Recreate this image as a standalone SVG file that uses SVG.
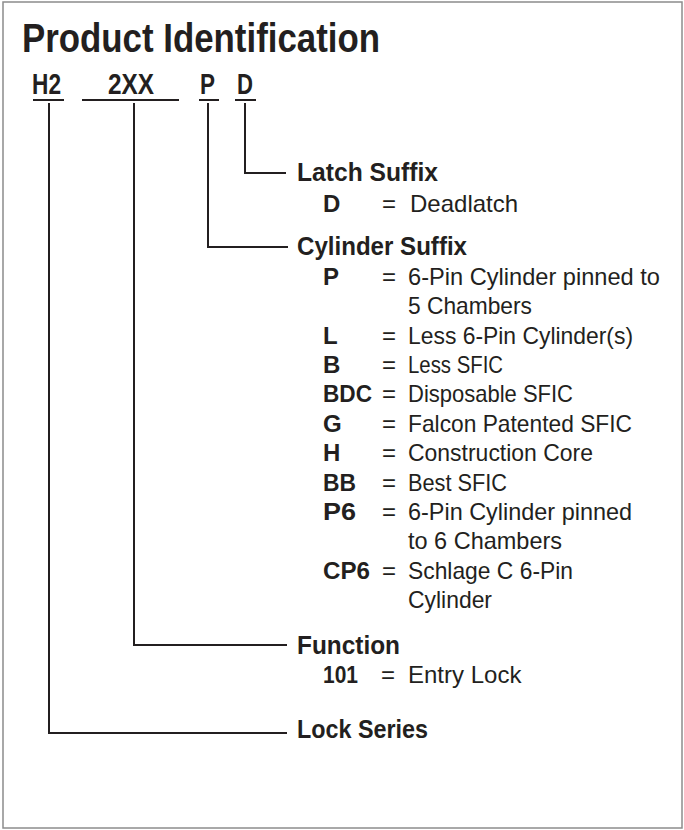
<svg xmlns="http://www.w3.org/2000/svg" width="684" height="830" viewBox="0 0 684 830">
<style>
text{font-family:"Liberation Sans",Arial,sans-serif;fill:#231f20}
.t{font-size:40px;font-weight:bold}
.c{font-size:29px;font-weight:bold}
.h{font-size:25px;font-weight:bold}
.k{font-size:24px;font-weight:bold}
.e{font-size:24px}
.d{font-size:24px}
.ln{fill:none;stroke:#231f20;stroke-width:2}
</style>
<rect x="3" y="2" width="679" height="826" fill="#fff" stroke="#8c8c8c" stroke-width="1.5"/>
<g id="title"><text class="t" x="22" y="52" textLength="358" lengthAdjust="spacingAndGlyphs">Product Identification</text></g>
<g id="codes">
<text class="c" x="32" y="94" textLength="29" lengthAdjust="spacingAndGlyphs">H2</text>
<text class="c" x="108" y="94" textLength="46" lengthAdjust="spacingAndGlyphs">2XX</text>
<text class="c" x="200" y="94" textLength="15" lengthAdjust="spacingAndGlyphs">P</text>
<text class="c" x="237" y="94" textLength="16" lengthAdjust="spacingAndGlyphs">D</text>
</g>
<g id="connectors" class="ln">
<line x1="33" y1="100" x2="64" y2="100"/>
<line x1="82" y1="100" x2="179" y2="100"/>
<line x1="199" y1="100" x2="219" y2="100"/>
<line x1="235" y1="100" x2="256" y2="100"/>
<polyline points="245,103 245,173 286,173"/>
<polyline points="208,103 208,247 288,247"/>
<polyline points="134,103 134,645 287,645"/>
<polyline points="49,103 49,733 287,733"/>
</g>
<g id="latch-suffix">
<text class="h" x="297" y="181" textLength="141" lengthAdjust="spacingAndGlyphs">Latch Suffix</text>
<text class="k" x="323" y="212">D</text><text class="e" x="382" y="212">=</text><text class="d" x="410" y="212">Deadlatch</text>
</g>
<g id="cylinder-suffix">
<text class="h" x="297" y="255" textLength="170" lengthAdjust="spacingAndGlyphs">Cylinder Suffix</text>
<text class="k" x="323" y="285">P</text><text class="e" x="382" y="285">=</text><text class="d" x="408" y="285" textLength="252" lengthAdjust="spacingAndGlyphs">6-Pin Cylinder pinned to</text>
<text class="d" x="408" y="314" textLength="124" lengthAdjust="spacingAndGlyphs">5 Chambers</text>
<text class="k" x="323" y="344">L</text><text class="e" x="382" y="344">=</text><text class="d" x="408" y="344" textLength="225" lengthAdjust="spacingAndGlyphs">Less 6-Pin Cylinder(s)</text>
<text class="k" x="323" y="373">B</text><text class="e" x="382" y="373">=</text><text class="d" x="408" y="373" textLength="95" lengthAdjust="spacingAndGlyphs">Less SFIC</text>
<text class="k" x="323" y="402" textLength="49" lengthAdjust="spacingAndGlyphs">BDC</text><text class="e" x="382" y="402">=</text><text class="d" x="408" y="402" textLength="165" lengthAdjust="spacingAndGlyphs">Disposable SFIC</text>
<text class="k" x="323" y="432">G</text><text class="e" x="382" y="432">=</text><text class="d" x="408" y="432" textLength="224" lengthAdjust="spacingAndGlyphs">Falcon Patented SFIC</text>
<text class="k" x="323" y="461">H</text><text class="e" x="382" y="461">=</text><text class="d" x="408" y="461" textLength="185" lengthAdjust="spacingAndGlyphs">Construction Core</text>
<text class="k" x="323" y="491" textLength="33" lengthAdjust="spacingAndGlyphs">BB</text><text class="e" x="382" y="491">=</text><text class="d" x="408" y="491" textLength="99" lengthAdjust="spacingAndGlyphs">Best SFIC</text>
<text class="k" x="323" y="520" textLength="33" lengthAdjust="spacingAndGlyphs">P6</text><text class="e" x="382" y="520">=</text><text class="d" x="408" y="520" textLength="224" lengthAdjust="spacingAndGlyphs">6-Pin Cylinder pinned</text>
<text class="d" x="408" y="549" textLength="154" lengthAdjust="spacingAndGlyphs">to 6 Chambers</text>
<text class="k" x="323" y="579" textLength="47" lengthAdjust="spacingAndGlyphs">CP6</text><text class="e" x="382" y="579">=</text><text class="d" x="408" y="579" textLength="165" lengthAdjust="spacingAndGlyphs">Schlage C 6-Pin</text>
<text class="d" x="408" y="608" textLength="84" lengthAdjust="spacingAndGlyphs">Cylinder</text>
</g>
<g id="function">
<text class="h" x="297" y="654" textLength="103" lengthAdjust="spacingAndGlyphs">Function</text>
<text class="k" x="323" y="683" textLength="35" lengthAdjust="spacingAndGlyphs">101</text><text class="e" x="381" y="683">=</text><text class="d" x="408" y="683">Entry Lock</text>
</g>
<g id="lock-series">
<text class="h" x="297" y="738" textLength="131" lengthAdjust="spacingAndGlyphs">Lock Series</text>
</g>
</svg>
